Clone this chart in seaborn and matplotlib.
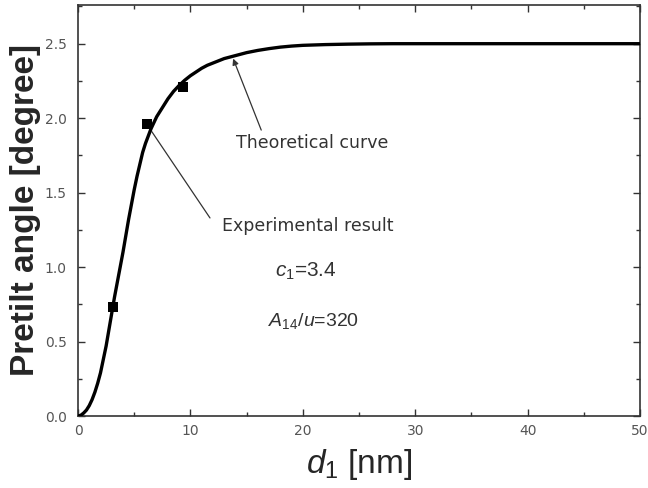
import matplotlib
matplotlib.use("Agg")
import matplotlib.pyplot as plt
import seaborn as sns
import pandas as pd
from matplotlib.ticker import MultipleLocator

# Theoretical curve
curve_x = [0, 0.25, 0.5, 0.75, 1.0, 1.25, 1.5, 1.75, 2.0, 2.25, 2.5, 2.75, 3.0, 3.25,
           3.5, 3.75, 4.0, 4.25, 4.5, 4.75, 5.0, 5.25, 5.5, 5.75, 6.0, 6.25, 6.5, 6.75,
           7.0, 7.5, 8.0, 8.5, 9.0, 9.5, 10, 10.5, 11, 11.5, 12, 13, 14, 15, 16, 17,
           18, 19, 20, 22, 24, 26, 28, 30, 35, 40, 45, 50]
curve_y = [0.0, 0.005, 0.02, 0.04, 0.07, 0.11, 0.16, 0.22, 0.29, 0.38, 0.47, 0.58, 0.69, 0.80,
           0.90, 1.00, 1.10, 1.21, 1.32, 1.42, 1.52, 1.61, 1.69, 1.77, 1.83, 1.88, 1.93, 1.97,
           2.01, 2.07, 2.13, 2.18, 2.22, 2.255, 2.285, 2.31, 2.335, 2.355, 2.37, 2.40, 2.42,
           2.44, 2.455, 2.467, 2.477, 2.484, 2.489, 2.494, 2.497, 2.499, 2.50, 2.50, 2.50,
           2.50, 2.50, 2.50]

# Experimental results
exp_x = [3.1, 6.15, 9.3]
exp_y = [0.73, 1.96, 2.21]

x_ticks = [0, 10, 20, 30, 40, 50]
y_ticks = [0.0, 0.5, 1.0, 1.5, 2.0, 2.5]

sns.set_style("ticks")
plt.rcParams['font.family'] = ['Liberation Sans', 'DejaVu Sans']
plt.rcParams['mathtext.fontset'] = 'custom'
plt.rcParams['mathtext.rm'] = 'Liberation Sans'
plt.rcParams['mathtext.it'] = 'Liberation Sans:italic'

fig = plt.figure(figsize=(6.48, 4.88), dpi=100)
ax = fig.add_axes([0.1204, 0.1475, 0.8673, 0.8423])

df_curve = pd.DataFrame({"x": curve_x, "y": curve_y})
df_exp = pd.DataFrame({"x": exp_x, "y": exp_y})

sns.lineplot(data=df_curve, x="x", y="y", ax=ax, color="black", linewidth=2.4, zorder=3)
sns.scatterplot(data=df_exp, x="x", y="y", ax=ax, color="black", marker="s", s=55,
                edgecolor="black", linewidth=0, zorder=4)

ax.set_xlim(0, 50)
ax.set_ylim(0, 2.76)
ax.set_xticks(x_ticks)
ax.set_yticks(y_ticks)
ax.set_yticklabels([f"{v:.1f}" for v in y_ticks], family="DejaVu Sans")
ax.set_xticklabels([str(v) for v in x_ticks], family="DejaVu Sans")
ax.xaxis.set_minor_locator(MultipleLocator(5))
ax.yaxis.set_minor_locator(MultipleLocator(0.25))
ax.tick_params(which="both", direction="in", top=True, right=True, colors="#333333",
               labelcolor="#555555", labelsize=10)
ax.tick_params(which="major", length=5, width=1)
ax.tick_params(axis="y", which="major", pad=8)
ax.tick_params(axis="x", which="major", pad=6)
ax.tick_params(which="minor", length=3, width=1)
for sp in ax.spines.values():
    sp.set_color("#333333")
    sp.set_linewidth(1.2)

ax.set_xlabel(r"$d_{\mathit{1}}$ [nm]", fontsize=24, labelpad=6)
ax.set_ylabel("Pretilt angle [degree]", fontsize=24, fontweight="bold", labelpad=3)

# Annotations
ann_font = dict(fontsize=12.5, color="#333333", va="center", family="DejaVu Sans")
ax.annotate("", xy=(13.8, 2.40), xytext=(16.3, 1.92),
            arrowprops=dict(arrowstyle="-|>", color="#333333", lw=0.9,
                            mutation_scale=9, shrinkA=0, shrinkB=0))
ax.text(14.05, 1.835, "Theoretical curve", **ann_font)

ax.plot([11.74, 6.56], [1.33, 1.91], color="#333333", lw=0.9)
ax.text(12.8, 1.277, "Experimental result", **ann_font)

ax.text(17.5, 0.97, r"$c_{\mathrm{1}}$=3.4", fontsize=15, color="#333333", va="center")
ax.text(16.9, 0.635, r"$A_{\mathrm{14}}$/$u$=320", fontsize=14, color="#333333", va="center")

fig.savefig("out.png", dpi=100)
